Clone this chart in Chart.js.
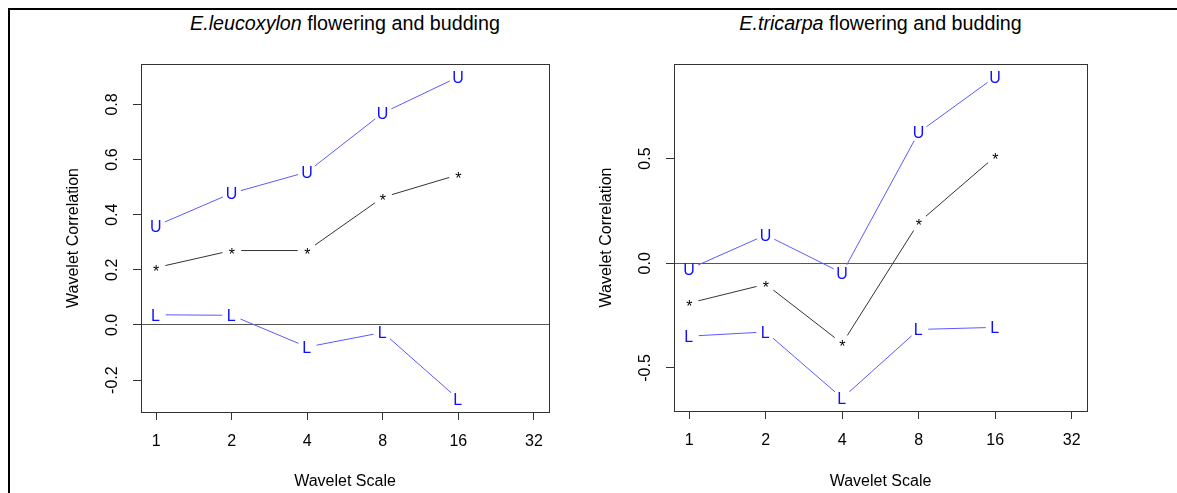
<!DOCTYPE html>
<html><head><meta charset="utf-8">
<script src="https://cdn.jsdelivr.net/npm/chart.js@4.4.1/dist/chart.umd.min.js"></script>
<style>
html,body{margin:0;padding:0;background:#fff;width:1177px;height:493px;overflow:hidden;}
#frame{position:absolute;left:8px;top:8px;width:2000px;height:2000px;border-left:2px solid #000;border-top:2px solid #000;}
.title{position:absolute;top:12.5px;font-family:"Liberation Sans",Arial,sans-serif;font-size:19.7px;line-height:20px;white-space:nowrap;transform:translateX(-50%);color:#000;}
.wrap{position:absolute;top:0;width:644px;height:493px;}
</style></head>
<body>
<div id="frame"></div>
<div class="title" style="left:345px"><i>E.leucoxylon</i> flowering and budding</div>
<div class="title" style="left:880.5px"><i>E.tricarpa</i> flowering and budding</div>
<div class="wrap" style="left:0px"><canvas id="c1" width="644" height="493"></canvas></div>
<div class="wrap" style="left:533px"><canvas id="c2" width="644" height="493"></canvas></div>
<script>
// ---- data ----
const scales = [1, 2, 4, 8, 16];
const xTickValues = [1, 2, 4, 8, 16, 32];

const leucoUpper = [0.36, 0.478, 0.555, 0.769, 0.90];
const leucoEst   = [0.208, 0.27, 0.27, 0.463, 0.545];
const leucoLower = [0.037, 0.035, -0.080, -0.027, -0.269];
const leucoYTicks = [-0.2, 0.0, 0.2, 0.4, 0.6, 0.8];

const tricUpper = [-0.027, 0.135, -0.047, 0.625, 0.89];
const tricEst   = [-0.19, -0.10, -0.383, 0.195, 0.51];
const tricLower = [-0.348, -0.328, -0.644, -0.316, -0.306];
const tricYTicks = [-0.5, 0.0, 0.5];

const seriesLabels = ['U', '*', 'L'];

// ---- styles ----
const FONT = '"Liberation Sans", Arial, sans-serif';
const BLUE_LINE = '#5a5aff';
const BLUE_TEXT = '#1010ff';
const BLACK_LINE = '#333333';
const BLACK_TEXT = '#000000';
const GAP = 9.5;

function rRange(arrs) {
  const all = [].concat(...arrs);
  const mn = Math.min(...all), mx = Math.max(...all);
  const d = (mx - mn) * 0.04;
  return [mn - d, mx + d];
}

const gapLinePlugin = {
  id: 'gapLines',
  afterDatasetsDraw(chart) {
    const ctx = chart.ctx;
    ctx.save();
    chart.data.datasets.forEach((ds, i) => {
      const pts = chart.getDatasetMeta(i).data;
      ctx.strokeStyle = ds.borderColor;
      ctx.lineWidth = 1;
      for (let k = 0; k < pts.length - 1; k++) {
        const a = pts[k], b = pts[k + 1];
        const dx = b.x - a.x, dy = b.y - a.y;
        const d = Math.hypot(dx, dy);
        if (d <= 2 * GAP) continue;
        const ux = dx / d, uy = dy / d;
        ctx.beginPath();
        ctx.moveTo(a.x + ux * GAP, a.y + uy * GAP);
        ctx.lineTo(b.x - ux * GAP, b.y - uy * GAP);
        ctx.stroke();
      }
      ctx.font = '16px ' + FONT;
      ctx.fillStyle = ds.textColor;
      ctx.textAlign = 'left';
      ctx.textBaseline = 'alphabetic';
      const m = ctx.measureText(ds.label);
      pts.forEach(p => {
        const x = p.x - (m.actualBoundingBoxRight - m.actualBoundingBoxLeft) / 2;
        const y = p.y + (m.actualBoundingBoxAscent - m.actualBoundingBoxDescent) / 2;
        ctx.fillText(ds.label, x, y);
      });
    });
    // plot box
    const ca = chart.chartArea;
    ctx.strokeStyle = '#333';
    ctx.lineWidth = 1;
    ctx.strokeRect(Math.round(ca.left) + 0.5, Math.round(ca.top) + 0.5,
                   Math.round(ca.right - ca.left), Math.round(ca.bottom - ca.top));
    ctx.restore();
  }
};

function makeChart(id, upper, est, lower, yTicks, padRight, xAxisH) {
  const [ymin, ymax] = rRange([upper, est, lower]);
  const mk = (vals, label, lc, tc) => ({
    label: label,
    data: scales.map((s, i) => ({ x: s, y: vals[i] })),
    showLine: false, pointRadius: 0, borderColor: lc, textColor: tc
  });
  return new Chart(document.getElementById(id), {
    type: 'line',
    data: {
      datasets: [
        mk(upper, seriesLabels[0], BLUE_LINE, BLUE_TEXT),
        mk(est, seriesLabels[1], BLACK_LINE, BLACK_TEXT),
        mk(lower, seriesLabels[2], BLUE_LINE, BLUE_TEXT)
      ]
    },
    options: {
      responsive: false, animation: false, devicePixelRatio: 1,
      layout: { padding: { left: 0, top: 64, right: padRight, bottom: 0 } },
      plugins: { legend: { display: false }, tooltip: { enabled: false }, title: { display: false } },
      scales: {
        x: {
          type: 'logarithmic', min: Math.pow(2, -0.2), max: Math.pow(2, 5.2),
          afterBuildTicks: s => { s.ticks = xTickValues.map(v => ({ value: v })); },
          afterFit: s => { s.height = xAxisH; },
          ticks: { callback: v => String(v), color: '#000', font: { family: FONT, size: 16 },
                   padding: 12, maxRotation: 0, minRotation: 0, autoSkip: false },
          grid: { drawOnChartArea: false, drawTicks: true, tickLength: 8, color: '#333', tickColor: '#333' },
          border: { display: false },
          title: { display: true, text: 'Wavelet Scale', color: '#000',
                   font: { family: FONT, size: 16 }, padding: { top: 0, bottom: 1.9 } }
        },
        y: {
          type: 'linear', min: ymin, max: ymax,
          afterBuildTicks: s => { s.ticks = yTicks.map(v => ({ value: v })); },
          afterFit: s => { s.width = 141; },
          ticks: { callback: v => Number(v).toFixed(1), color: '#000', font: { family: FONT, size: 16 },
                   minRotation: 90, maxRotation: 90, crossAlign: 'center', padding: 6.4, autoSkip: false },
          grid: { drawOnChartArea: true, drawTicks: true, tickLength: 8,
                  color: c => (c.tick && c.tick.value === 0) ? '#555' : 'rgba(0,0,0,0)', tickColor: '#333' },
          border: { display: false },
          title: { display: true, text: 'Wavelet Correlation', color: '#000',
                   font: { family: FONT, size: 16 }, padding: { top: 64, bottom: 0 } }
        }
      }
    },
    plugins: [gapLinePlugin]
  });
}

makeChart('c1', leucoUpper, leucoEst, leucoLower, leucoYTicks, 95, 81);
makeChart('c2', tricUpper, tricEst, tricLower, tricYTicks, 90, 82);
</script>
</body></html>
